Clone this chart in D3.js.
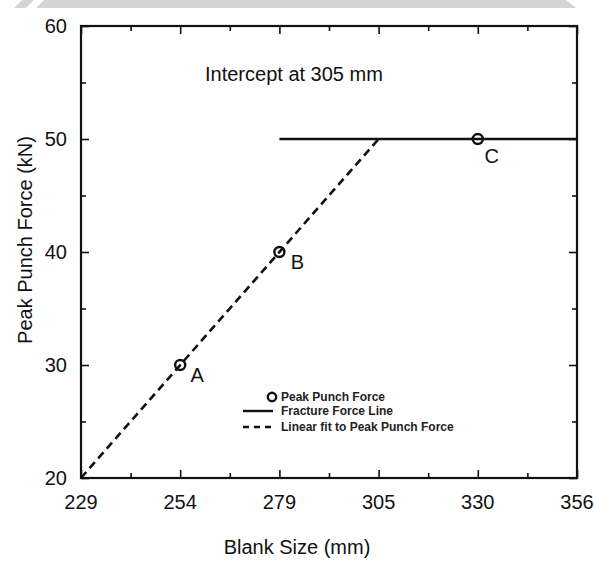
<!DOCTYPE html>
<html>
<head>
<meta charset="utf-8">
<script src="https://cdn.jsdelivr.net/npm/d3@7"></script>
<style>
  body { margin: 0; background: #fff; }
  svg { display: block; font-family: "Liberation Sans", Arial, sans-serif; }
</style>
</head>
<body>
<svg id="chart"></svg>
<script>
// blank sizes are whole inches, shown in mm
const xTicks = [228.6, 254, 279.4, 304.8, 330.2, 355.6];
const xTickLabels = ["229", "254", "279", "305", "330", "356"];
const xMinor = [241.3, 266.7, 292.1, 317.5, 342.9];
const yTicks = [20, 30, 40, 50, 60];
const yMinor = [25, 35, 45, 55];

// measured peak punch force
const pointNames = ["A", "B", "C"];
const pointX = [254, 279.4, 330.2];
const pointY = [30, 40, 50];

// linear fit and fracture force line
const fitX = [228.6, 304.8];
const fitY = [20, 50];
const fractureX = [279.4, 355.6];
const fractureY = [50, 50];

const legendLabels = ["Peak Punch Force", "Fracture Force Line", "Linear fit to Peak Punch Force"];

const width = 594, height = 562;
const margin = { top: 26, right: 17, bottom: 84, left: 81 };
const w = width - margin.left - margin.right;
const h = height - margin.top - margin.bottom;

const svg = d3.select("#chart").attr("width", width).attr("height", height);

// grey strip at the very top of the scan
svg.append("rect").attr("x", 0).attr("y", 0).attr("width", width).attr("height", 8).attr("fill", "#d4d4d4");
svg.append("path").attr("d", "M0,0 L22,0 L14,8 L0,8 Z").attr("fill", "#fff");
svg.append("path").attr("d", "M34,0 L44,0 L36,8 L26,8 Z").attr("fill", "#fff");
svg.append("path").attr("d", "M566,0 L594,0 L594,8 L576,8 Z").attr("fill", "#fff");

const g = svg.append("g").attr("transform", `translate(${margin.left},${margin.top})`);

const x = d3.scaleLinear().domain([228.6, 355.6]).range([0, w]);
const y = d3.scaleLinear().domain([20, 60]).range([h, 0]);

// ticks on all four sides, pointing inward
const axes = [
  { ax: d3.axisBottom(x).tickValues(xTicks).tickSize(-8).tickFormat(""), t: `translate(0,${h})` },
  { ax: d3.axisBottom(x).tickValues(xMinor).tickSize(-5).tickFormat(""), t: `translate(0,${h})` },
  { ax: d3.axisTop(x).tickValues(xTicks).tickSize(-8).tickFormat(""), t: "translate(0,0)" },
  { ax: d3.axisTop(x).tickValues(xMinor).tickSize(-5).tickFormat(""), t: "translate(0,0)" },
  { ax: d3.axisLeft(y).tickValues(yTicks).tickSize(-8).tickFormat(""), t: "translate(0,0)" },
  { ax: d3.axisLeft(y).tickValues(yMinor).tickSize(-5).tickFormat(""), t: "translate(0,0)" },
  { ax: d3.axisRight(y).tickValues(yTicks).tickSize(-8).tickFormat(""), t: `translate(${w},0)` },
  { ax: d3.axisRight(y).tickValues(yMinor).tickSize(-5).tickFormat(""), t: `translate(${w},0)` }
];
axes.forEach(a => {
  const sel = g.append("g").attr("transform", a.t).call(a.ax);
  sel.select(".domain").remove();
  sel.selectAll("line").attr("stroke", "#111").attr("stroke-width", 1.6);
});

g.append("rect").attr("width", w).attr("height", h)
  .attr("fill", "none").attr("stroke", "#111").attr("stroke-width", 2.2);

// tick labels
g.selectAll(".xl").data(xTicks).join("text")
  .attr("x", d => x(d)).attr("y", h + 31)
  .attr("text-anchor", "middle").attr("font-size", 20).attr("fill", "#111")
  .text((d, i) => xTickLabels[i]);
g.selectAll(".yl").data(yTicks).join("text")
  .attr("x", -14).attr("y", d => y(d) + 7)
  .attr("text-anchor", "end").attr("font-size", 20).attr("fill", "#111")
  .text(d => d);

// axis titles
svg.append("text").attr("x", 297).attr("y", 554)
  .attr("text-anchor", "middle").attr("font-size", 20).attr("fill", "#111")
  .text("Blank Size (mm)");
svg.append("text").attr("transform", `translate(32,240) rotate(-90)`)
  .attr("text-anchor", "middle").attr("font-size", 20).attr("fill", "#111")
  .text("Peak Punch Force (kN)");

g.append("text").attr("x", 124).attr("y", 55)
  .attr("font-size", 20).attr("fill", "#111").text("Intercept at 305 mm");

const line = d3.line().x(d => x(d[0])).y(d => y(d[1]));

g.append("path").datum(fitX.map((v, i) => [v, fitY[i]]))
  .attr("d", line).attr("fill", "none").attr("stroke", "#111")
  .attr("stroke-width", 2.6).attr("stroke-dasharray", "8,5");
g.append("path").datum(fractureX.map((v, i) => [v, fractureY[i]]))
  .attr("d", line).attr("fill", "none").attr("stroke", "#111").attr("stroke-width", 2.4);

const pts = pointX.map((v, i) => ({ x: v, y: pointY[i], name: pointNames[i] }));
g.selectAll(".pt").data(pts).join("circle")
  .attr("cx", d => x(d.x)).attr("cy", d => y(d.y)).attr("r", 5)
  .attr("fill", "none").attr("stroke", "#111").attr("stroke-width", 2.4);

const labelOff = { A: [17, 17], B: [18, 17], C: [14, 24] };
g.selectAll(".ptl").data(pts).join("text")
  .attr("x", d => x(d.x) + labelOff[d.name][0]).attr("y", d => y(d.y) + labelOff[d.name][1])
  .attr("text-anchor", "middle").attr("font-size", 20).attr("fill", "#111")
  .text(d => d.name);

// legend
const lg = svg.append("g").attr("transform", "translate(243,397)");
lg.append("circle").attr("cx", 29).attr("cy", 0).attr("r", 4.2)
  .attr("fill", "none").attr("stroke", "#111").attr("stroke-width", 2.4);
lg.append("line").attr("x1", 0).attr("x2", 30).attr("y1", 14).attr("y2", 14)
  .attr("stroke", "#111").attr("stroke-width", 2.4);
lg.append("line").attr("x1", 0).attr("x2", 30).attr("y1", 30).attr("y2", 30)
  .attr("stroke", "#111").attr("stroke-width", 2.4).attr("stroke-dasharray", "6,5");
lg.selectAll(".lt").data(legendLabels).join("text")
  .attr("x", 38).attr("y", (d, i) => [0, 14, 30][i] + 4)
  .attr("font-size", 12).attr("font-weight", "bold").attr("fill", "#222")
  .text(d => d);
</script>
</body>
</html>
